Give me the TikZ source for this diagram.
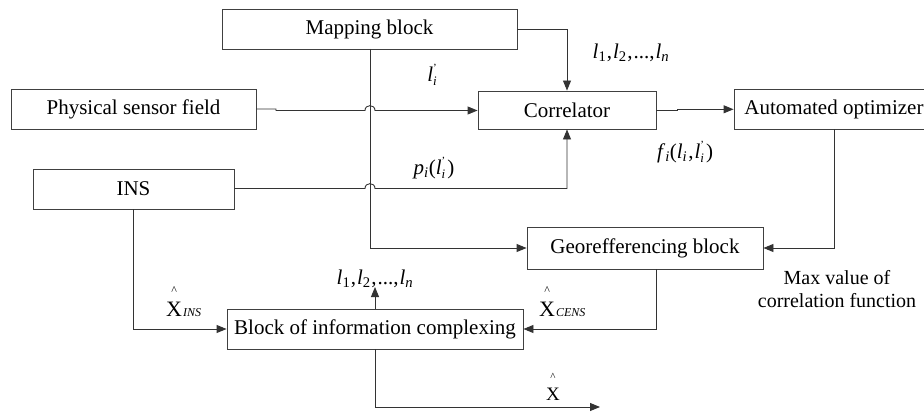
\documentclass[tikz,border=0pt]{standalone}
\usepackage{fontspec}
\setmainfont{Liberation Serif}
\usetikzlibrary{arrows.meta}
\newcommand{\sbsp}[2]{\rlap{\raisebox{-4pt}{\fontsize{13}{13}\selectfont #1}}\raisebox{10pt}{\fontsize{11}{11}\selectfont #2}\kern2pt}
\newcommand{\hX}[1]{\begin{tabular}[b]{@{}c@{}}{\fontsize{12}{12}\selectfont\textasciicircum}\\[-2pt]{\fontsize{22}{22}\selectfont X}\end{tabular}\kern1pt{\fontsize{12}{12}\selectfont\itshape #1}}
\newcommand{\lseq}{\textit{l}\textsubscript{1}\kern0.5pt,\kern1pt\textit{l}\textsubscript{2}\kern0.5pt,\kern1pt...,\kern1pt\textit{l}\textsubscript{\textit{n}}}
\tikzset{
  blk/.style={draw=black!75, line width=0.9pt, rectangle, inner sep=0pt, minimum height=40pt, font=\fontsize{21}{24}\selectfont},
  lbl/.style={inner sep=0pt, font=\fontsize{21}{24}\selectfont},
  conn/.style={draw=black!80, line width=0.9pt},
  arr/.style={conn, -{Triangle[length=10pt,width=8pt]}}
}
\begin{document}
\begin{tikzpicture}[x=1pt,y=-1pt]
\useasboundingbox (0,0) rectangle (924,412);
\clip (0,0) rectangle (924,412);
% blocks
\node[blk, minimum width=295pt] (map) at (369.5,29) {Mapping block};
\node[blk, minimum width=245pt] (psf) at (133.5,109) {Physical sensor field};
\node[blk, minimum width=201pt] (ins) at (133.5,189) {INS};
\node[blk, minimum width=178pt, minimum height=38pt] (cor) at (567,110) {Correlator};
\node[blk, minimum width=200pt] (ao) at (834,109) {Automated optimizer};
\node[blk, minimum width=236pt, minimum height=42pt] (geo) at (645,248) {Georefferencing block};
\node[blk, minimum width=296pt] (bic) at (375,329) {Block of information complexing};
% coordinates
\coordinate (mapdown) at (370,49);
\coordinate (geobot) at (656,269);
\coordinate (out) at (600,407);
\coordinate (lup) at (375,287);
% connectors
\draw[arr] (map.east) -| (cor.north);
\draw[arr] (mapdown) |- (geo.west);
\draw[arr] (psf.east) -- (276,109) -- (276,110.5) -- (365,110.5)
   .. controls (365,104) and (375,104) .. (375,110.5) -- (cor.west |- 0,110.5);
\draw[arr] (ins.east |- 0,188.5) -- (365,188.5)
   .. controls (365,182) and (375,182) .. (375,188.5) -| (cor.south);
\draw[arr] (cor.east |- 0,110.5) -- (677,110.5) -- (677,109.3) -- (ao.west |- 0,109.3);
\draw[arr] (ao.south) |- (geo.east);
\draw[arr] (ins.south) |- (bic.west);
\draw[arr] (geobot) |- (bic.east);
\draw[arr] (bic.north) -- (lup);
\draw[arr] (bic.south) |- (out);
% labels
\node[lbl] (l1) at (631,53) {\lseq};
\node[lbl] (li) at (433,75) {\textit{l}\sbsp{\textit{i}}{'}};
\node[lbl] (pi) at (434,168) {\textit{p}\textsubscript{\textit{i}}(\textit{l}\sbsp{\textit{i}}{'})};
\node[lbl] (fi) at (685,152) {\textit{f}\textsubscript{\textit{i}}(\textit{l}\textsubscript{\textit{i}}\kern1pt,\kern1pt\textit{l}\sbsp{\textit{i}}{'})};
\node[lbl] (l2) at (375,279) {\lseq};
\node[lbl, anchor=base west] (xins) at (166,316) {\hX{INS}};
\node[lbl, anchor=base west] (xcens) at (539,316) {\hX{CENS}};
\node[lbl, anchor=base west] (xhat) at (546,400) {\begin{tabular}[b]{@{}c@{}}{\fontsize{11}{11}\selectfont\textasciicircum}\\[-4pt]{\fontsize{19}{19}\selectfont X}\end{tabular}};
\node[lbl, align=center, font=\fontsize{20}{23}\selectfont] (max) at (837,289) {Max value of\\correlation function};
\end{tikzpicture}
\end{document}
